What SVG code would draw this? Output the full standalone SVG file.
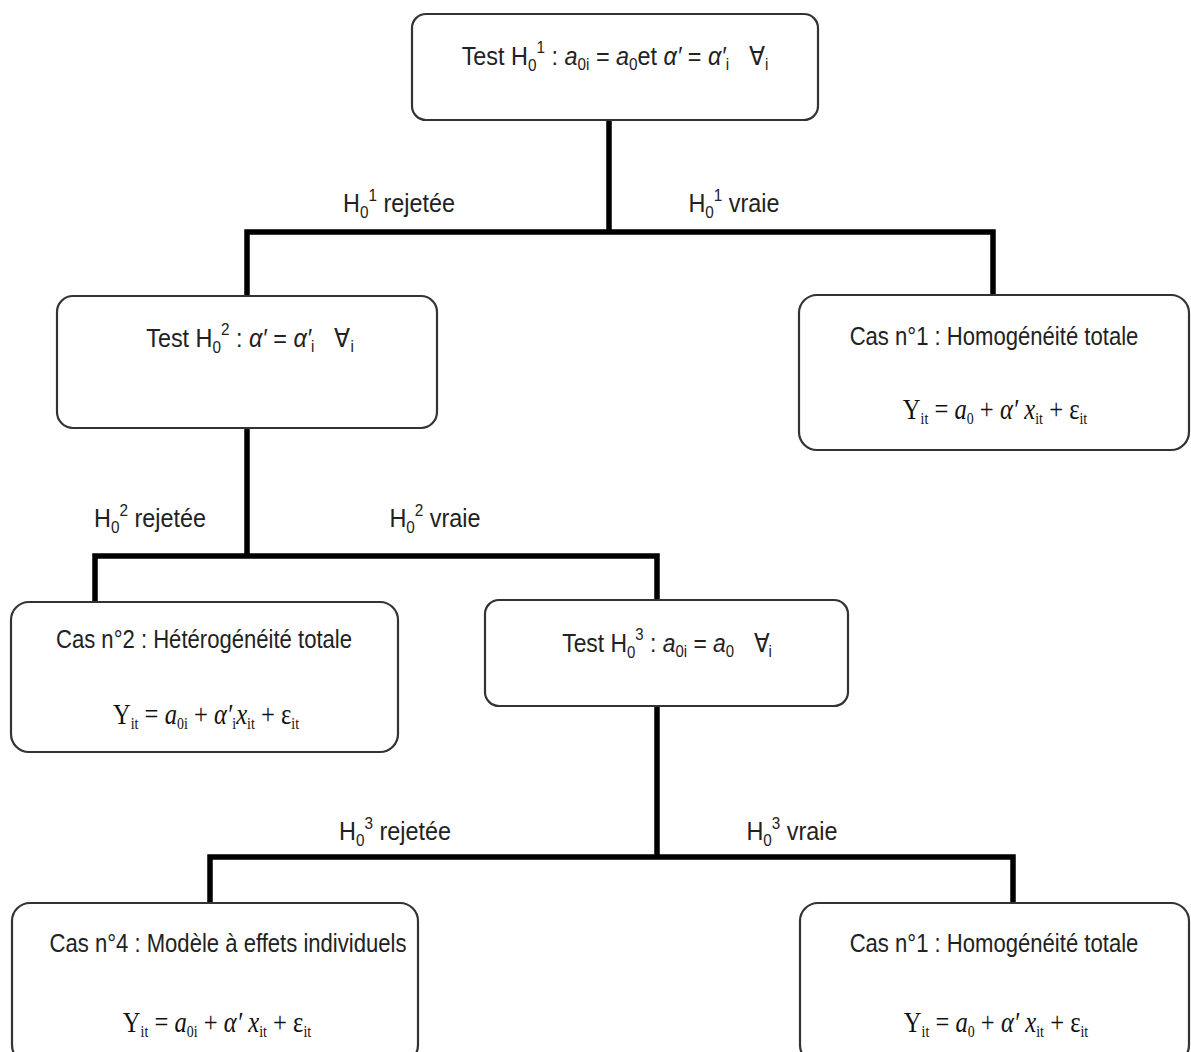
<svg xmlns="http://www.w3.org/2000/svg" width="1191" height="1052" viewBox="0 0 1191 1052">
<style>
.box{fill:#fff;stroke:#333;stroke-width:2.2}
.c{stroke:#000;stroke-width:5.5;fill:none;stroke-linecap:square}
.t{font-family:"Liberation Sans",Arial,sans-serif;font-size:26px;fill:#222;text-anchor:middle}
.l{font-family:"Liberation Sans",Arial,sans-serif;font-size:26px;fill:#222;text-anchor:middle}
.m{font-family:"Liberation Serif","Times New Roman",serif;font-size:30px;fill:#111;text-anchor:middle}
.i{font-style:italic}
.s{font-size:17px}
</style>
<rect width="1191" height="1052" fill="#fff"/>
<g id="connectors">
<path class="c" d="M609 120V232M247 232H993M247 232V296M993 232V296"/>
<path class="c" d="M247 428V556M95 556H657M95 556V602M657 556V600"/>
<path class="c" d="M657 706V857M210 857H1013M210 857V903M1013 857V903"/>
</g>
<g id="labels">
<g transform="translate(399,212) scale(0.9,1)"><text class="l">H<tspan class="s" dy="6">0</tspan><tspan class="s" dy="-17">1</tspan><tspan dy="11"> rejetée</tspan></text></g>
<g transform="translate(734,212) scale(0.9,1)"><text class="l">H<tspan class="s" dy="6">0</tspan><tspan class="s" dy="-17">1</tspan><tspan dy="11"> vraie</tspan></text></g>
<g transform="translate(150,527) scale(0.9,1)"><text class="l">H<tspan class="s" dy="6">0</tspan><tspan class="s" dy="-17">2</tspan><tspan dy="11"> rejetée</tspan></text></g>
<g transform="translate(435,527) scale(0.9,1)"><text class="l">H<tspan class="s" dy="6">0</tspan><tspan class="s" dy="-17">2</tspan><tspan dy="11"> vraie</tspan></text></g>
<g transform="translate(395,840) scale(0.9,1)"><text class="l">H<tspan class="s" dy="6">0</tspan><tspan class="s" dy="-17">3</tspan><tspan dy="11"> rejetée</tspan></text></g>
<g transform="translate(792,840) scale(0.9,1)"><text class="l">H<tspan class="s" dy="6">0</tspan><tspan class="s" dy="-17">3</tspan><tspan dy="11"> vraie</tspan></text></g>
</g>
<g id="test1">
<rect class="box" x="412" y="14" width="406" height="106" rx="14"/>
<g transform="translate(615,65) scale(0.9,1)"><text class="t">Test H<tspan class="s" dy="6">0</tspan><tspan class="s" dy="-18">1</tspan><tspan dy="12"> : </tspan><tspan class="i">a</tspan><tspan class="s" dy="5">0i</tspan><tspan dy="-5"> = </tspan><tspan class="i">a</tspan><tspan class="s" dy="5">0</tspan><tspan dy="-5">et </tspan><tspan class="i">α′</tspan> = <tspan class="i">α′</tspan><tspan class="s" dy="5">i</tspan><tspan dy="-5" dx="22">∀</tspan><tspan class="s" dy="5">i</tspan></text></g>
</g>
<g id="test2">
<rect class="box" x="57" y="296" width="380" height="132" rx="16"/>
<g transform="translate(250,347) scale(0.9,1)"><text class="t">Test H<tspan class="s" dy="6">0</tspan><tspan class="s" dy="-18">2</tspan><tspan dy="12"> : </tspan><tspan class="i">α′</tspan> = <tspan class="i">α′</tspan><tspan class="s" dy="5">i</tspan><tspan dy="-5" dx="22">∀</tspan><tspan class="s" dy="5">i</tspan></text></g>
</g>
<g id="cas1a">
<rect class="box" x="799" y="295" width="390" height="155" rx="18"/>
<g transform="translate(994,345) scale(0.85,1)"><text class="t">Cas n°1 : Homogénéité totale</text></g>
<g transform="translate(995,419) scale(0.82,1)"><text class="m">Y<tspan class="s" dy="5">it</tspan><tspan dy="-5"> = </tspan><tspan class="i">a</tspan><tspan class="s" dy="5">0</tspan><tspan dy="-5"> + </tspan><tspan class="i">α′ x</tspan><tspan class="s" dy="5">it</tspan><tspan dy="-5"> + ε</tspan><tspan class="s" dy="5">it</tspan></text></g>
</g>
<g id="cas2">
<rect class="box" x="11" y="602" width="387" height="150" rx="18"/>
<g transform="translate(204,648) scale(0.85,1)"><text class="t">Cas n°2 : Hétérogénéité totale</text></g>
<g transform="translate(206,724) scale(0.82,1)"><text class="m">Y<tspan class="s" dy="5">it</tspan><tspan dy="-5"> = </tspan><tspan class="i">a</tspan><tspan class="s" dy="5">0i</tspan><tspan dy="-5"> + </tspan><tspan class="i">α′</tspan><tspan class="s" dy="5">i</tspan><tspan class="i" dy="-5">x</tspan><tspan class="s" dy="5">it</tspan><tspan dy="-5"> + ε</tspan><tspan class="s" dy="5">it</tspan></text></g>
</g>
<g id="test3">
<rect class="box" x="485" y="600" width="363" height="106" rx="14"/>
<g transform="translate(667,652) scale(0.88,1)"><text class="t">Test H<tspan class="s" dy="6">0</tspan><tspan class="s" dy="-18">3</tspan><tspan dy="12"> : </tspan><tspan class="i">a</tspan><tspan class="s" dy="5">0i</tspan><tspan dy="-5"> = </tspan><tspan class="i">a</tspan><tspan class="s" dy="5">0</tspan><tspan dy="-5" dx="22">∀</tspan><tspan class="s" dy="5">i</tspan></text></g>
</g>
<g id="cas4">
<rect class="box" x="12" y="903" width="406" height="160" rx="18"/>
<g transform="translate(228,952) scale(0.85,1)"><text class="t">Cas n°4 : Modèle à effets individuels</text></g>
<g transform="translate(217,1032) scale(0.82,1)"><text class="m">Y<tspan class="s" dy="5">it</tspan><tspan dy="-5"> = </tspan><tspan class="i">a</tspan><tspan class="s" dy="5">0i</tspan><tspan dy="-5"> + </tspan><tspan class="i">α′ x</tspan><tspan class="s" dy="5">it</tspan><tspan dy="-5"> + ε</tspan><tspan class="s" dy="5">it</tspan></text></g>
</g>
<g id="cas1b">
<rect class="box" x="800" y="903" width="389" height="160" rx="18"/>
<g transform="translate(994,952) scale(0.85,1)"><text class="t">Cas n°1 : Homogénéité totale</text></g>
<g transform="translate(996,1032) scale(0.82,1)"><text class="m">Y<tspan class="s" dy="5">it</tspan><tspan dy="-5"> = </tspan><tspan class="i">a</tspan><tspan class="s" dy="5">0</tspan><tspan dy="-5"> + </tspan><tspan class="i">α′ x</tspan><tspan class="s" dy="5">it</tspan><tspan dy="-5"> + ε</tspan><tspan class="s" dy="5">it</tspan></text></g>
</g>
</svg>
